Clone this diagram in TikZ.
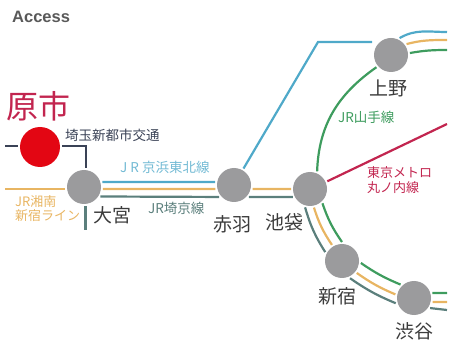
\documentclass[tikz,border=0pt]{standalone}
\usepackage{fontspec}
\setmainfont{Noto Sans CJK JP}
\newfontfamily\latinfont{Liberation Sans}
\definecolor{lineblue}{HTML}{4FA9C9}
\definecolor{lineorange}{HTML}{E8B562}
\definecolor{lineteal}{HTML}{5B7F7C}
\definecolor{linegreen}{HTML}{3E9C5E}
\definecolor{linered}{HTML}{C2254F}
\definecolor{linenavy}{HTML}{3A4256}
\definecolor{stationgray}{HTML}{9B9B9D}
\definecolor{markerred}{HTML}{E30613}
\definecolor{darktext}{HTML}{3C3C3C}
\tikzset{
  station/.style={circle,fill=stationgray,draw=none,minimum size=34pt,inner sep=0pt,outer sep=2pt},
  homestation/.style={circle,fill=markerred,draw=none,minimum size=40pt,inner sep=0pt,outer sep=2pt},
  rail/.style={line width=2.2pt},
  blue rail/.style={rail,draw=lineblue},
  orange rail/.style={rail,draw=lineorange},
  teal rail/.style={rail,draw=lineteal},
  green rail/.style={rail,draw=linegreen},
  red rail/.style={rail,draw=linered},
  navy rail/.style={rail,draw=linenavy},
  stationname/.style={anchor=west,inner sep=0pt,text=darktext,font=\fontsize{19}{19}\selectfont},
  linelabel/.style={anchor=west,inner sep=0pt,align=left,font=\fontsize{13.5}{15}\selectfont}
}
\begin{document}
\begin{tikzpicture}[x=1pt,y=1pt]
\useasboundingbox (0,0) rectangle (450,351);
% stations
\node[homestation] (hara) at (40,204) {};
\node[station] (omiya) at (84,164) {};
\node[station] (akabane) at (234,166) {};
\node[station] (ike) at (310,162) {};
\node[station] (shin) at (342,90) {};
\node[station] (shib) at (414,53) {};
\node[station] (ueno) at (391,296) {};
% free ends
\coordinate (navyL) at (5,205);
\coordinate (navyC) at (86,205);
\coordinate (orangeL) at (5,162);
\coordinate (tealS) at (85.5,121);
\coordinate (blueK) at (318,309);
\coordinate (redE) at (447,227);
\coordinate (uenoB) at (447,319);
\coordinate (uenoO) at (447,311);
\coordinate (uenoG) at (447,301);
\coordinate (shibG) at (447,58);
\coordinate (shibO) at (447,49);
\coordinate (shibT) at (447,41);
% connectors
\draw[navy rail] (navyL) -- (hara.west |- navyL);
\draw[navy rail] (hara.east |- navyC) -- (navyC) -- (omiya.north -| navyC);
\draw[orange rail] (orangeL) -- (omiya.west |- orangeL);
\draw[teal rail] (omiya.south -| tealS) -- (tealS);
\draw[blue rail] (omiya.15) -- (akabane.171);
\draw[orange rail] (omiya.-6) -- (akabane.192);
\draw[teal rail] (omiya.-30) -- (akabane.219);
\draw[orange rail] (akabane.-12) -- (ike.180);
\draw[teal rail] (akabane.-39) -- (ike.205);
\draw[blue rail] (akabane.60) -- (blueK) -- (ueno.west |- blueK);
\draw[green rail] (ueno.220) to[out=215,in=88] (ike.68);
\draw[red rail] (ike.24) -- (redE);
\draw[blue rail] (ueno.63) to[out=30,in=180] (uenoB);
\draw[orange rail] (ueno.35) to[out=15,in=180] (uenoO);
\draw[green rail] (ueno.6) to[out=10,in=180] (uenoG);
\draw[green rail] (ike.-49) to[bend right=8] (shin.90);
\draw[orange rail] (ike.-78) to[bend right=8] (shin.122);
\draw[teal rail] (ike.-105) to[bend right=8] (shin.152);
\draw[green rail] (shin.-6) to[bend right=6] (shib.135);
\draw[orange rail] (shin.-39) to[bend right=6] (shib.169);
\draw[teal rail] (shin.-65) to[bend right=6] (shib.196);
\draw[green rail] (shib.15) -- (shibG);
\draw[orange rail] (shib.-12) -- (shibO);
\draw[teal rail] (shib.-32) -- (shibT);
% labels
\node[anchor=west,inner sep=0pt,text=darktext!85] (access) at (12,334) {\latinfont\bfseries\fontsize{16.5}{16.5}\selectfont Access};
\node[anchor=west,inner sep=0pt,text=linered] (lhara) at (6,245) {\fontsize{32}{32}\selectfont 原市};
\node[linelabel,text=linenavy] (lsaitama) at (65,216) {埼玉新都市交通};
\node[linelabel,text=lineblue!80] (lkeihin) at (120,184) {J R 京浜東北線};
\node[linelabel,text=lineteal] (lsaikyo) at (148,143) {JR埼京線};
\node[linelabel,text=lineorange,font=\fontsize{13}{14}\selectfont] (lshonan) at (15,142) {JR湘南\\新宿ライン};
\node[linelabel,text=linegreen] (lyama) at (338,234) {JR山手線};
\node[linelabel,text=linered,font=\fontsize{13}{15}\selectfont] (lmaru) at (367,171) {東京メトロ\\丸ノ内線};
\node[stationname] (lomiya) at (93,136) {大宮};
\node[stationname] (lakabane) at (213,127) {赤羽};
\node[stationname] (like) at (265,129) {池袋};
\node[stationname] (lshin) at (318,55) {新宿};
\node[stationname] (lshib) at (395,20) {渋谷};
\node[stationname] (lueno) at (369,263) {上野};
\end{tikzpicture}
\end{document}
